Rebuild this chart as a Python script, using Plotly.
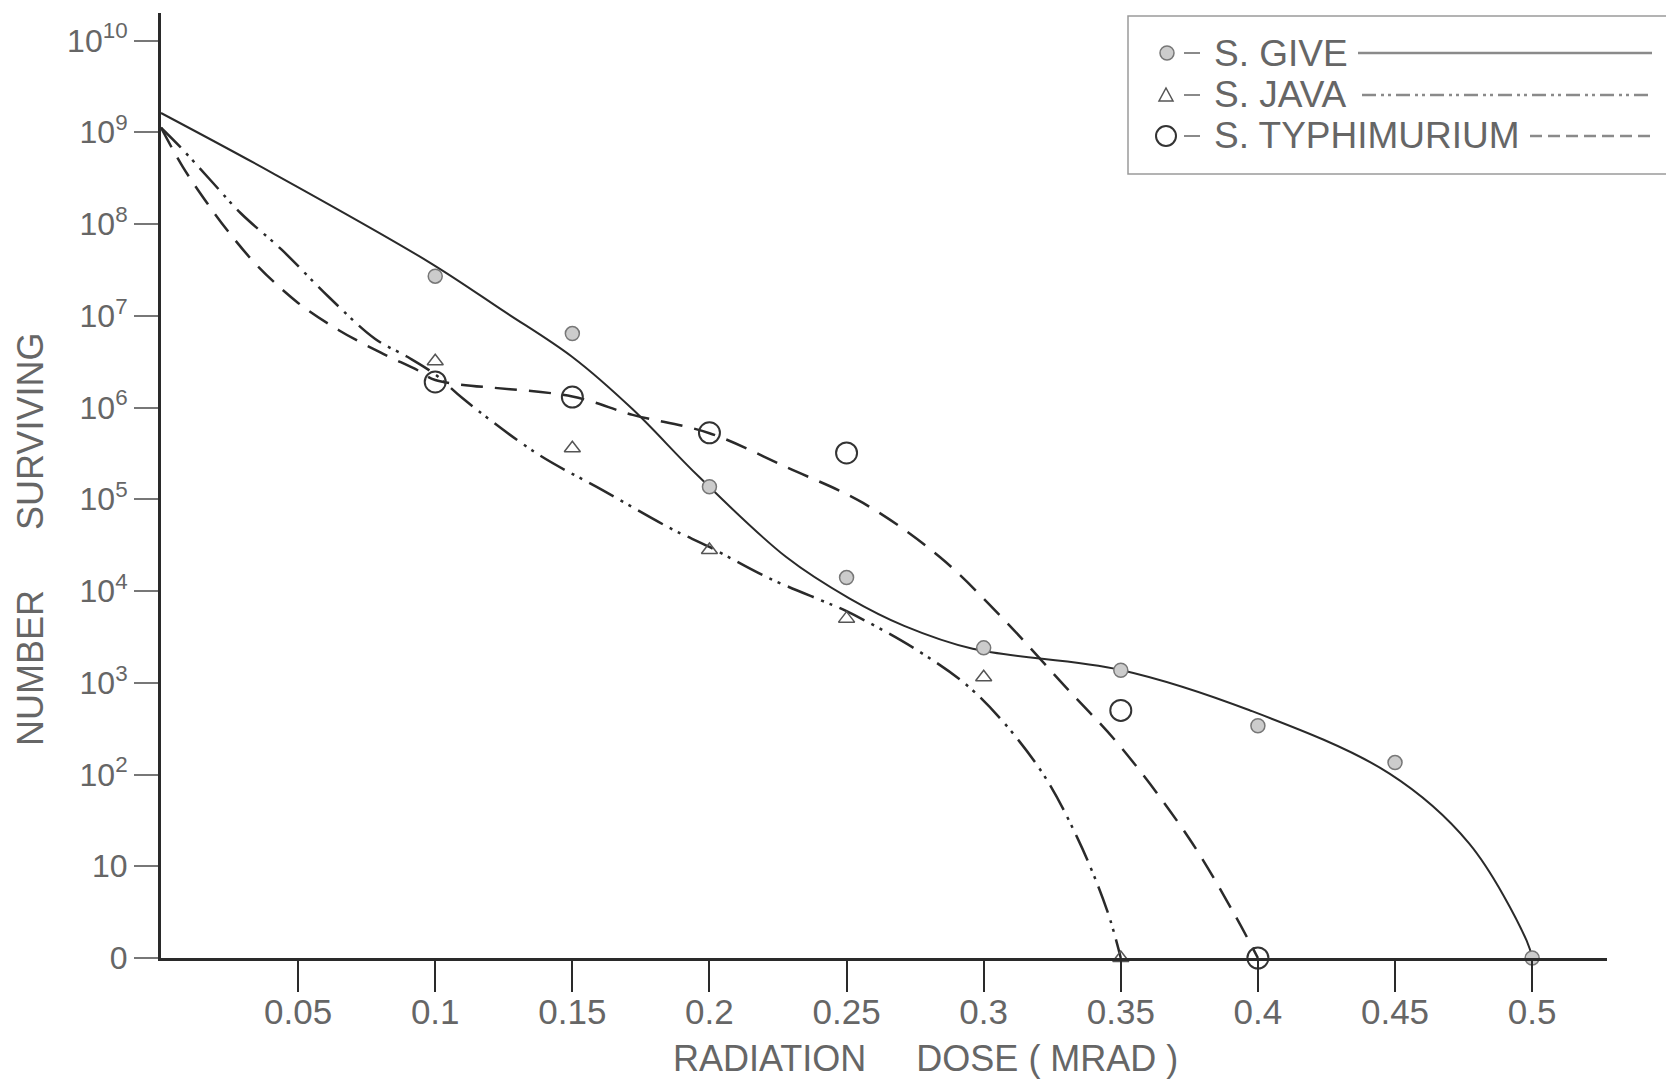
import plotly.graph_objects as go

# ---------------- data ----------------
dose_ticks = [0.05, 0.1, 0.15, 0.2, 0.25, 0.3, 0.35, 0.4, 0.45, 0.5]
dose_tick_text = ["0.05", "0.1", "0.15", "0.2", "0.25", "0.3", "0.35", "0.4", "0.45", "0.5"]

count_ticks = [1, 10, 1e2, 1e3, 1e4, 1e5, 1e6, 1e7, 1e8, 1e9, 1e10]
count_tick_text = ["0", "10", "10<sup>2</sup>", "10<sup>3</sup>", "10<sup>4</sup>", "10<sup>5</sup>",
                   "10<sup>6</sup>", "10<sup>7</sup>", "10<sup>8</sup>", "10<sup>9</sup>", "10<sup>10</sup>"]

# observed survivors (0 = none surviving, drawn on the "0" line)
give_dose = [0.1, 0.15, 0.2, 0.25, 0.3, 0.35, 0.4, 0.45, 0.5]
give_count = [2.7e7, 6.4e6, 1.37e5, 1.4e4, 2.4e3, 1.37e3, 3.4e2, 1.35e2, 0]

java_dose = [0.1, 0.15, 0.2, 0.25, 0.3, 0.35]
java_count = [3.2e6, 3.6e5, 2.8e4, 5.0e3, 1.15e3, 0]

typh_dose = [0.1, 0.15, 0.2, 0.25, 0.35, 0.4]
typh_count = [1.9e6, 1.3e6, 5.3e5, 3.2e5, 5.0e2, 0]

# hand-drawn fitted curves (log10 of survivors)
give_fit_dose = [0, 0.041, 0.098, 0.125, 0.15, 0.172, 0.196, 0.228, 0.251, 0.271, 0.296, 0.35, 0.397,
                 0.448, 0.477, 0.498, 0.5]
give_fit_log = [9.21, 8.55, 7.58, 7.05, 6.55, 5.98, 5.25, 4.37, 3.92, 3.62, 3.37, 3.14, 2.70,
                2.01, 1.25, 0.19, 0]

java_fit_dose = [0, 0.007, 0.018, 0.029, 0.044, 0.061, 0.078, 0.09, 0.1, 0.11, 0.137, 0.161, 0.186, 0.2,
                 0.221, 0.243, 0.25, 0.276, 0.297, 0.320, 0.334, 0.345, 0.35]
java_fit_log = [9.05, 8.84, 8.48, 8.12, 7.72, 7.21, 6.75, 6.55, 6.36, 6.10, 5.50, 5.10, 4.68, 4.48,
                4.15, 3.87, 3.78, 3.35, 2.89, 2.08, 1.32, 0.52, 0]

typh_fit_dose = [0, 0.008, 0.017, 0.025, 0.035, 0.05, 0.065, 0.08, 0.094, 0.1, 0.15, 0.172, 0.2, 0.228,
                 0.256, 0.284, 0.307, 0.33, 0.35, 0.375, 0.391, 0.4]
typh_fit_log = [9.05, 8.62, 8.22, 7.90, 7.55, 7.14, 6.84, 6.60, 6.40, 6.30, 6.12, 5.92, 5.72, 5.35,
                4.96, 4.37, 3.70, 2.95, 2.30, 1.30, 0.50, 0]

series_names = ["S. GIVE", "S. JAVA", "S. TYPHIMURIUM"]

# ---------------- layout geometry ----------------
# The page body keeps its default 8px margin, so the figure is sized to fit inside it.
BODY = 8
W, H = 1674 - 2 * BODY, 1089 - 2 * BODY
ML, MR, MT, MB = 153, 59, 5, 123
PW, PH = W - ML - MR, H - MT - MB

FONT = "Liberation Sans, Arial, sans-serif"
TXT = "#666666"
INK = "#2a2a2a"
LEG = "#8a8a8a"


def on_axis(vals):
    return [v if v > 0 else 1 for v in vals]


def px(x):  # page pixel -> paper fraction
    return (x - BODY - ML) / PW


def py(y):
    return (H - MB - (y - BODY)) / PH


fig = go.Figure()

# fitted curves
fig.add_trace(go.Scatter(x=give_fit_dose, y=[10 ** v for v in give_fit_log], mode="lines",
                         line=dict(color=INK, width=2, shape="spline", smoothing=1.0),
                         name=series_names[0], showlegend=False, hoverinfo="skip"))
fig.add_trace(go.Scatter(x=java_fit_dose, y=[10 ** v for v in java_fit_log], mode="lines",
                         line=dict(color=INK, width=2.5, shape="spline", smoothing=1.0,
                                   dash="28px,8px,3px,6px,3px,8px"),
                         name=series_names[1], showlegend=False, hoverinfo="skip"))
fig.add_trace(go.Scatter(x=typh_fit_dose, y=[10 ** v for v in typh_fit_log], mode="lines",
                         line=dict(color=INK, width=2.5, shape="spline", smoothing=1.0,
                                   dash="22px,12px"),
                         name=series_names[2], showlegend=False, hoverinfo="skip"))

# observed points
fig.add_trace(go.Scatter(x=give_dose, y=on_axis(give_count), mode="markers", cliponaxis=False,
                         marker=dict(symbol="circle", size=14, color="#cccccc",
                                     line=dict(color="#777777", width=1.5)),
                         name=series_names[0], showlegend=False))
fig.add_trace(go.Scatter(x=java_dose, y=on_axis(java_count), mode="markers", cliponaxis=False,
                         marker=dict(symbol="triangle-up-open", size=14, color="#555555",
                                     line=dict(color="#555555", width=1.5)),
                         name=series_names[1], showlegend=False))
fig.add_trace(go.Scatter(x=typh_dose, y=on_axis(typh_count), mode="markers", cliponaxis=False,
                         marker=dict(symbol="circle-open", size=21, color="#333333",
                                     line=dict(color="#333333", width=2)),
                         name=series_names[2], showlegend=False))

# ---------------- hand-made legend (as in the original figure) ----------------
shapes = [dict(type="rect", xref="paper", yref="paper", x0=px(1128), x1=px(1700), y0=py(174), y1=py(16),
               line=dict(color="#9a9a9a", width=1.5), fillcolor="rgba(0,0,0,0)", layer="above")]
annotations = []
rows = [(53, "S. GIVE", 1358, "solid"),
        (95, "S. JAVA", 1362, "14px,5px,3px,4px,3px,5px"),
        (136, "S. TYPHIMURIUM", 1530, "12px,6px")]
for (ry, label, line_start, dash) in rows:
    shapes.append(dict(type="line", xref="paper", yref="paper", x0=px(1184), x1=px(1200), y0=py(ry), y1=py(ry),
                       line=dict(color=LEG, width=2)))
    shapes.append(dict(type="line", xref="paper", yref="paper", x0=px(line_start), x1=px(1652),
                       y0=py(ry), y1=py(ry), line=dict(color=LEG, width=2.5, dash=dash)))
    annotations.append(dict(xref="paper", yref="paper", x=px(1212), y=py(ry), xanchor="left", yanchor="middle",
                            text=label, showarrow=False, font=dict(family=FONT, size=37, color=TXT)))
# legend symbols
shapes.append(dict(type="circle", xref="paper", yref="paper", x0=px(1160), x1=px(1174), y0=py(60), y1=py(46),
                   line=dict(color="#777777", width=1.5), fillcolor="#cccccc"))
shapes.append(dict(type="path", xref="paper", yref="paper",
                   path="M {:.5f} {:.5f} L {:.5f} {:.5f} L {:.5f} {:.5f} Z".format(
                       px(1159), py(101), px(1173), py(101), px(1166), py(88)),
                   line=dict(color="#555555", width=1.5)))
shapes.append(dict(type="circle", xref="paper", yref="paper", x0=px(1156), x1=px(1176), y0=py(146), y1=py(126),
                   line=dict(color="#333333", width=2)))

# axis titles
annotations.append(dict(xref="paper", yref="paper", x=px(925), y=-MB / PH, text="RADIATION     DOSE ( MRAD )",
                        showarrow=False, xanchor="center", yanchor="bottom",
                        font=dict(family=FONT, size=36, color=TXT)))
annotations.append(dict(xref="paper", yref="paper", x=px(30), y=py(540), text="NUMBER      SURVIVING",
                        showarrow=False, textangle=-90, xanchor="center", yanchor="middle",
                        font=dict(family=FONT, size=36, color=TXT)))

fig.update_layout(
    width=W, height=H,
    margin=dict(l=ML, r=MR, t=MT, b=MB, autoexpand=False),
    paper_bgcolor="white", plot_bgcolor="white",
    showlegend=False,
    shapes=shapes, annotations=annotations,
    xaxis=dict(range=[0, 0.5273], tickmode="array", tickvals=dose_ticks, ticktext=dose_tick_text,
               ticks="outside", ticklen=31, tickwidth=2, tickcolor=INK, ticklabelstandoff=-10,
               showline=True, linecolor=INK, linewidth=2.5, showgrid=False, zeroline=False, automargin=False,
               tickfont=dict(family=FONT, size=35, color=TXT)),
    yaxis=dict(type="log", range=[0, 10.3], tickmode="array", tickvals=count_ticks, ticktext=count_tick_text,
               ticks="outside", ticklen=24, tickwidth=1.5, tickcolor="#777777",
               showline=True, linecolor=INK, linewidth=3, showgrid=False, zeroline=False, automargin=False,
               tickfont=dict(family=FONT, size=32, color=TXT)),
)

fig.write_html("out.html")
